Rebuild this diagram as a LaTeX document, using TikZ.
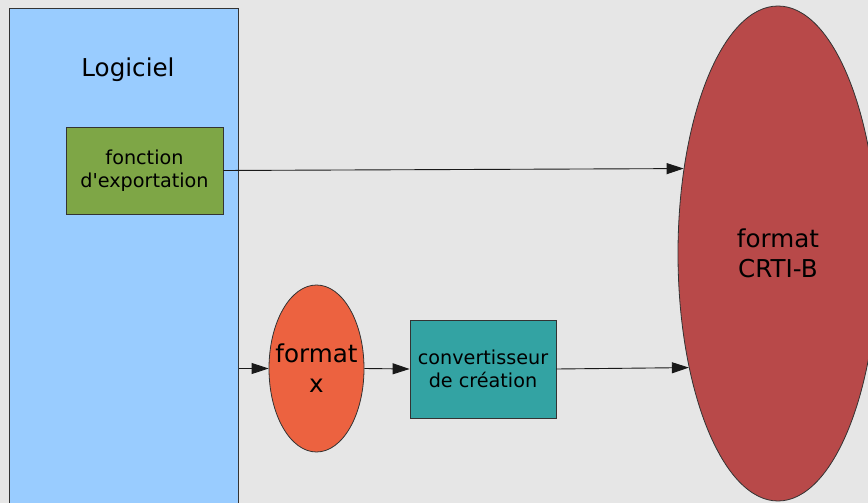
\documentclass[tikz,border=0pt]{standalone}
\usepackage{fontspec}
\setmainfont{DejaVu Sans}
\usetikzlibrary{shapes.geometric,arrows.meta}
\definecolor{bg}{HTML}{E6E6E6}
\definecolor{softblue}{HTML}{99CCFF}
\definecolor{expgreen}{HTML}{7EA646}
\definecolor{convteal}{HTML}{33A3A3}
\definecolor{fmtorange}{HTML}{EC6240}
\definecolor{crtired}{HTML}{B84949}
\definecolor{edge}{HTML}{333333}
\begin{document}
\begin{tikzpicture}[x=1pt,y=-1pt,
  small/.style={font=\fontsize{19.2}{23.5}\selectfont},
  big/.style={font=\fontsize{24.6}{30}\selectfont},
  boxshape/.style={draw=edge, line width=0.8pt, inner sep=0pt, align=center},
  ellshape/.style={ellipse, draw=edge, line width=0.8pt, inner sep=0pt},
  arr/.style={draw=black!90, line width=0.9pt, -{Triangle[length=17pt,width=11pt]}}]
\useasboundingbox (0,0) rectangle (868,503);
\clip (0,0) rectangle (868,503);
\fill[bg] (0,0) rectangle (868,503);
\node[boxshape, fill=softblue, minimum width=229pt, minimum height=520pt, anchor=north west] (soft) at (9,8) {};
\node[big] (title) at (128,69.5) {Logiciel};
\node[boxshape, fill=expgreen, minimum width=157pt, minimum height=87pt, small] (exp) at (144.5,170.5) {fonction\\d\textquotesingle exportation};
\node[ellshape, fill=fmtorange, minimum width=95pt, minimum height=167pt] (fx) at (316.5,368.5) {};
\node[big, align=center] (fxlabel) at (fx.center) {format\\x};
\node[boxshape, fill=convteal, minimum width=146pt, minimum height=98pt, small] (conv) at (483,369) {convertisseur\\de création};
\node[ellshape, fill=crtired, minimum width=200pt, minimum height=495pt] (crti) at (778,253.5) {};
\node[big, align=center] (crtilabel) at (crti.center) {format\\CRTI-B};
\draw[arr] (exp.east) -- (crti.138.8);
\draw[arr] (soft.east |- fx.west) -- (fx.west);
\draw[arr] (fx.east) -- (conv.west);
\draw[arr] (conv.east) -- (crti.232.7);
\end{tikzpicture}
\end{document}
